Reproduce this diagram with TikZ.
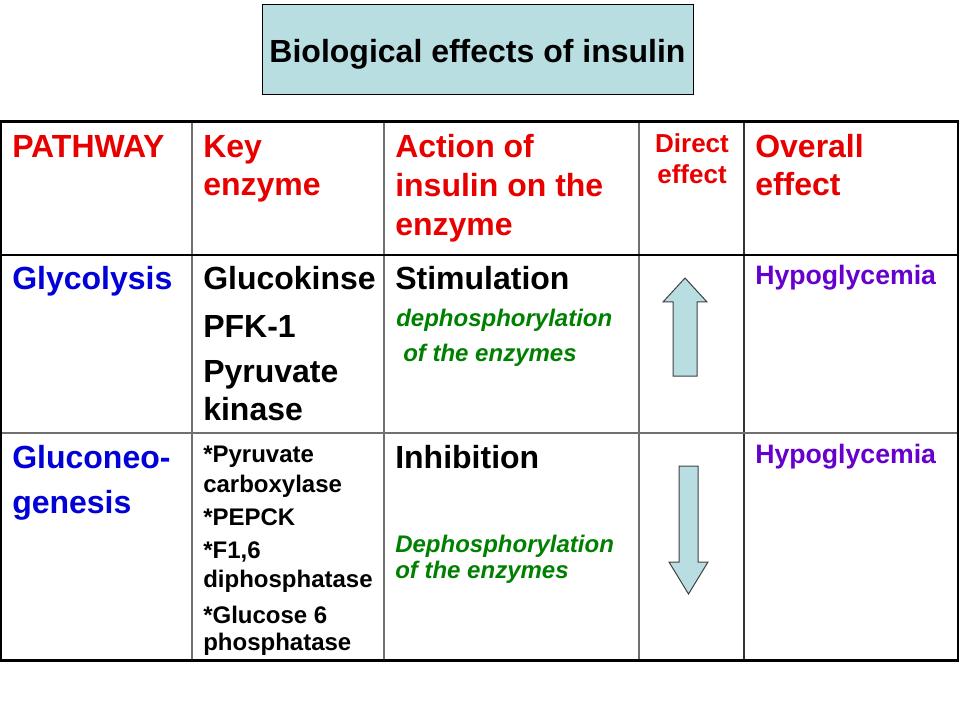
\documentclass[tikz,border=0pt]{standalone}
\usepackage{fontspec}
\setmainfont{Liberation Sans}
\usepackage{xcolor}
\usetikzlibrary{positioning}

\definecolor{paleaqua}{RGB}{185,222,226}
\definecolor{headred}{RGB}{232,0,0}
\definecolor{pathblue}{RGB}{0,0,215}
\definecolor{effpurple}{RGB}{102,0,204}
\definecolor{notegreen}{RGB}{0,128,0}
\definecolor{rulegray}{RGB}{112,112,112}

\tikzset{
  cell/.style={anchor=base west, inner sep=0pt, font=\bfseries\fontsize{24}{28}\selectfont},
  headcell/.style={cell, text=headred},
  pathcell/.style={cell, text=pathblue},
  enzcell/.style={cell, text=black},
  smallcell/.style={cell, font=\bfseries\fontsize{18}{21}\selectfont},
  notecell/.style={cell, font=\bfseries\itshape\fontsize{18}{21}\selectfont, text=notegreen},
  effcell/.style={cell, font=\bfseries\fontsize{20}{24}\selectfont, text=effpurple},
  arrowshape/.style={fill=paleaqua, draw=black!75, line width=0.75pt, line join=miter}
}

\begin{document}
\begin{tikzpicture}[x=0.75pt, y=-0.75pt]
\useasboundingbox (0,0) rectangle (960,720);

% Title box
\draw[fill=paleaqua, line width=0.75pt] (262,5) rectangle (693,95);
\node[cell, anchor=base] (title) at (477.5,63) {Biological effects of insulin};

% Table rules
\draw[rulegray, line width=1.5pt] (192,122) -- (192,660);
\draw[rulegray, line width=1.5pt] (384,122) -- (384,660);
\draw[rulegray, line width=1.5pt] (639,122) -- (639,660);
\draw[black!80, line width=1.5pt] (744,122) -- (744,660);
\draw[black, line width=1pt] (1,255) -- (958,255);
\draw[rulegray, line width=1.5pt] (1,433) -- (958,433);
\draw[black, line width=1.5pt] (1,122) -- (1,660);
\draw[black, line width=1.5pt] (958,122) -- (958,660);
\draw[black, line width=2.25pt] (0,122) -- (959,122);
\draw[black, line width=2.25pt] (0,660) -- (959,660);

% Header row
\node[headcell] (pathway) at (12,158) {PATHWAY};
\node[headcell] (key1) at (203,158) {Key};
\node[headcell] (key2) at (203,196) {enzyme};
\node[headcell] (act1) at (395,158) {Action of};
\node[headcell] (act2) at (395,197) {insulin on the};
\node[headcell] (act3) at (395,236) {enzyme};
\node[headcell, anchor=base, font=\bfseries\fontsize{19.5}{23}\selectfont] (dir1) at (692,153) {Direct};
\node[headcell, anchor=base, font=\bfseries\fontsize{19.5}{23}\selectfont] (dir2) at (692,184) {effect};
\node[headcell] (over1) at (755,158) {Overall};
\node[headcell] (over2) at (755,196) {effect};

% Glycolysis row
\node[pathcell] (glyco) at (12,290) {Glycolysis};
\node[enzcell] (gk) at (203,290) {Glucokinse};
\node[enzcell] (pfk) at (203,337) {PFK-1};
\node[enzcell] (pk1) at (203,382) {Pyruvate};
\node[enzcell] (pk2) at (203,420) {kinase};
\node[enzcell] (stim) at (395,290) {Stimulation};
\node[notecell] (dephos1) at (396,326) {dephosphorylation};
\node[notecell] (dephos2) at (403,361) {of the enzymes};
\draw[arrowshape] (685,278) -- (707,302) -- (697,302) -- (697,376) -- (673,376) -- (673,302) -- (663,302) -- cycle;
\node[effcell] (hypo1) at (755,285) {Hypoglycemia};

% Gluconeogenesis row
\node[pathcell] (gng1) at (12,468) {Gluconeo-};
\node[pathcell] (gng2) at (12,513) {genesis};
\node[smallcell] (pc1) at (203,462) {*Pyruvate};
\node[smallcell] (pc2) at (203,492) {carboxylase};
\node[smallcell] (pepck) at (203,525) {*PEPCK};
\node[smallcell] (fbp1) at (203,558) {*F1,6};
\node[smallcell] (fbp2) at (203,587) {diphosphatase};
\node[smallcell] (g6p1) at (203,623) {*Glucose 6};
\node[smallcell] (g6p2) at (203,650) {phosphatase};
\node[enzcell] (inhib) at (395,468) {Inhibition};
\node[notecell] (dephos3) at (395,552) {Dephosphorylation};
\node[notecell] (dephos4) at (395,578) {of the enzymes};
\draw[arrowshape] (679,466) -- (698,466) -- (698,562) -- (708,562) -- (688.5,594) -- (669,562) -- (679,562) -- cycle;
\node[effcell] (hypo2) at (755,463) {Hypoglycemia};
\end{tikzpicture}
\end{document}
